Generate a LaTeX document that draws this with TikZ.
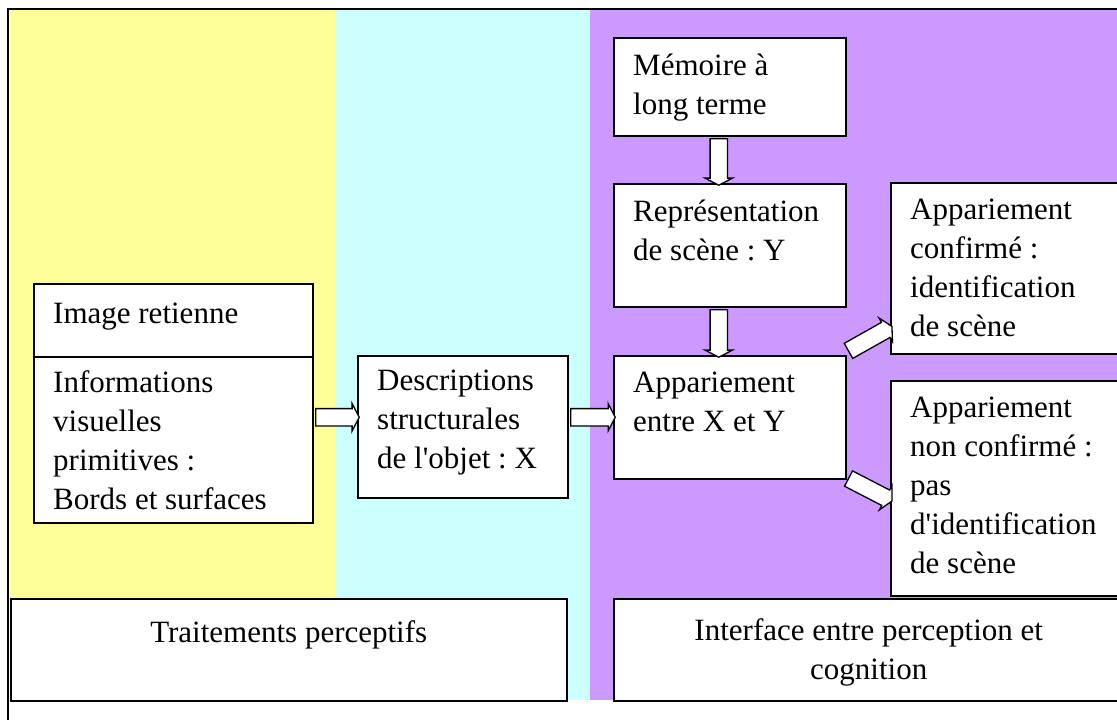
\documentclass[tikz,border=0pt]{standalone}
\usepackage{fontspec}
\setmainfont{Liberation Serif}
\usetikzlibrary{calc,shapes.arrows}

\definecolor{jauneFond}{RGB}{255,255,153}
\definecolor{cyanFond}{RGB}{204,255,255}
\definecolor{mauveFond}{RGB}{204,153,255}

%% Block arrow laid along the segment between two points.
\newcommand{\blockArrow}[2]{%
  \path let \p1=#1, \p2=#2, \n1={veclen(\x2-\x1,\y2-\y1)} in
    (\p1) -- node[arrowStyle,minimum height=\n1] {} (\p2);}

\begin{document}
\frenchspacing
\begin{tikzpicture}[x=1pt,y=-1pt,%%
  boxStyle/.style={draw,fill=white,line width=1.5pt,inner sep=0pt,anchor=north west},%%
  textStyle/.style={anchor=north west,inner sep=0pt,align=left,%%
    font=\fontsize{31}{39}\selectfont\frenchspacing,execute at begin node=\strut},%%
  titleStyle/.style={textStyle,anchor=north,align=center},%%
  arrowStyle/.style={single arrow,draw,fill=white,line width=1.3pt,%%
    inner xsep=0pt,inner ysep=8pt,single arrow head extend=5pt,single arrow tip angle=125,%%
    sloped,allow upside down}%%
]
%%
\pgfmathsetmacro{\padLeft}{20}
\pgfmathsetmacro{\padTop}{16.7}
\useasboundingbox (0,0) rectangle (1117,720);
%%
%% Coloured bands.
\fill[jauneFond] (10,10) rectangle (335,598);
\fill[cyanFond] (335,10) rectangle (590,700);
\fill[mauveFond] (590,10) rectangle (1117,700);
\draw[line width=2pt] (8,720) -- (8,9) -- (1117,9);
%%
%% Boxes.
\node[boxStyle,minimum width=279,minimum height=73] (imageBox) at (33,283) {};
\node[boxStyle,minimum width=279,minimum height=166] (infoBox) at (33,356) {};
\node[boxStyle,minimum width=210,minimum height=142] (descrBox) at (357,355) {};
\node[boxStyle,minimum width=232,minimum height=98] (memoireBox) at (613,37) {};
\node[boxStyle,minimum width=232,minimum height=123] (reprBox) at (613,183) {};
\node[boxStyle,minimum width=232,minimum height=123] (apparBox) at (613,355) {};
\node[boxStyle,minimum width=240,minimum height=171] (confirmeBox) at (890,182) {};
\node[boxStyle,minimum width=240,minimum height=215] (nonConfBox) at (890,380) {};
\node[boxStyle,minimum width=556,minimum height=102] (traitBox) at (10,598) {};
\node[boxStyle,minimum width=510,minimum height=102] (interBox) at (613,598) {};
%%
%% Texts.
\node[textStyle] (imageText) at ([xshift=\padLeft pt,yshift=-\padTop pt+4pt]imageBox.north west) {Image retienne};
\node[textStyle] (infoText) at ([xshift=\padLeft pt,yshift=-\padTop pt+2pt]infoBox.north west)
  {Informations\\visuelles\\primitives :\\Bords et surfaces};
\node[textStyle] (descrText) at ([xshift=\padLeft pt,yshift=-\padTop pt+2pt]descrBox.north west)
  {Descriptions\\structurales\\de l\textquotesingle objet : X};
\node[textStyle] (memoireText) at ([xshift=\padLeft pt,yshift=-\padTop pt]memoireBox.north west)
  {Mémoire à\\long terme};
\node[textStyle] (reprText) at ([xshift=\padLeft pt,yshift=-\padTop pt]reprBox.north west)
  {Représentation\\de scène : Y};
\node[textStyle] (apparText) at ([xshift=\padLeft pt,yshift=-\padTop pt]apparBox.north west)
  {Appariement\\entre X et Y};
\node[textStyle] (confirmeText) at ([xshift=\padLeft pt,yshift=-\padTop pt]confirmeBox.north west)
  {Appariement\\confirmé :\\identification\\de scène};
\node[textStyle] (nonConfText) at ([xshift=\padLeft pt,yshift=-\padTop pt]nonConfBox.north west)
  {Appariement\\non confirmé :\\pas\\d\textquotesingle identification\\de scène};
\node[titleStyle] (traitText) at ([yshift=-\padTop pt]traitBox.north) {Traitements perceptifs};
\node[titleStyle] (interText) at ([yshift=-\padTop pt-4pt]interBox.north)
  {Interface entre perception et\\cognition};
%%
%% Arrows.
\blockArrow{(infoBox.east |- apparBox.west)}{(descrBox.west |- apparBox.west)}
\blockArrow{(descrBox.east |- apparBox.west)}{(apparBox.west)}
\blockArrow{([xshift=-11pt]memoireBox.south)}{([xshift=-11pt]reprBox.north)}
\blockArrow{([xshift=-11pt]reprBox.south)}{([xshift=-11pt]apparBox.north)}
\blockArrow{([yshift=3pt]apparBox.north east)}{([yshift=27pt]confirmeBox.south west)}
\blockArrow{([yshift=2pt]apparBox.south east)}{([yshift=-120pt]nonConfBox.north west)}
\end{tikzpicture}
\end{document}
